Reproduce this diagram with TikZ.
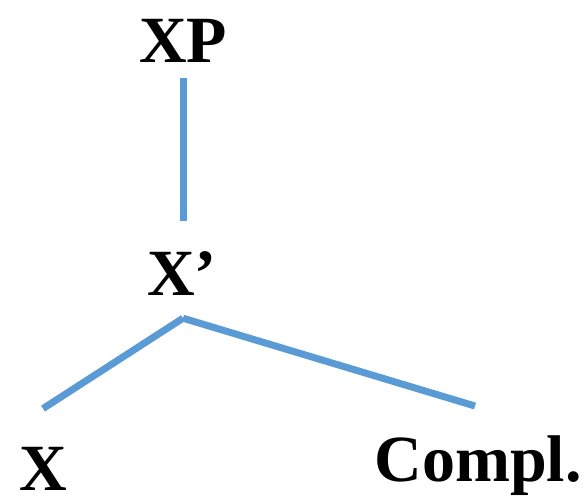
\documentclass[tikz,border=0pt]{standalone}
\usepackage{fontspec}
\setmainfont{Liberation Serif}
\usetikzlibrary{positioning,calc}
\definecolor{branchblue}{HTML}{5B9BD5}
\begin{document}
\begin{tikzpicture}[
    x=1pt, y=-1pt,
    cat/.style={inner sep=0pt, anchor=base,
                font=\fontsize{66}{70}\selectfont\bfseries},
    branch/.style={draw=branchblue, line width=7pt}
]
  \useasboundingbox (0,0) rectangle (588,498);

  % Category labels
  \node[cat] (xp) at (183,62) {XP};
  \node[cat] (xbar) at (182,295) {X’};
  \node[cat] (xhead) at (43,490) {X};
  \node[cat] (compl) at (478,481) {Compl.};

  % Branch points
  \coordinate (fork) at ($(xp.south |- xbar.south)+(0,23)$);
  \coordinate (xend) at ($(xhead.north)+(0,-38)$);
  \coordinate (cend) at ($(compl.north)+(-3,-29)$);

  % Branches
  \draw[branch, shorten <=16pt, shorten >=30pt] (xp.south) -- (xp.south |- xbar.north);
  \draw[branch] (fork) -- (xend);
  \draw[branch] (fork) -- (cend);

\end{tikzpicture}
\end{document}
